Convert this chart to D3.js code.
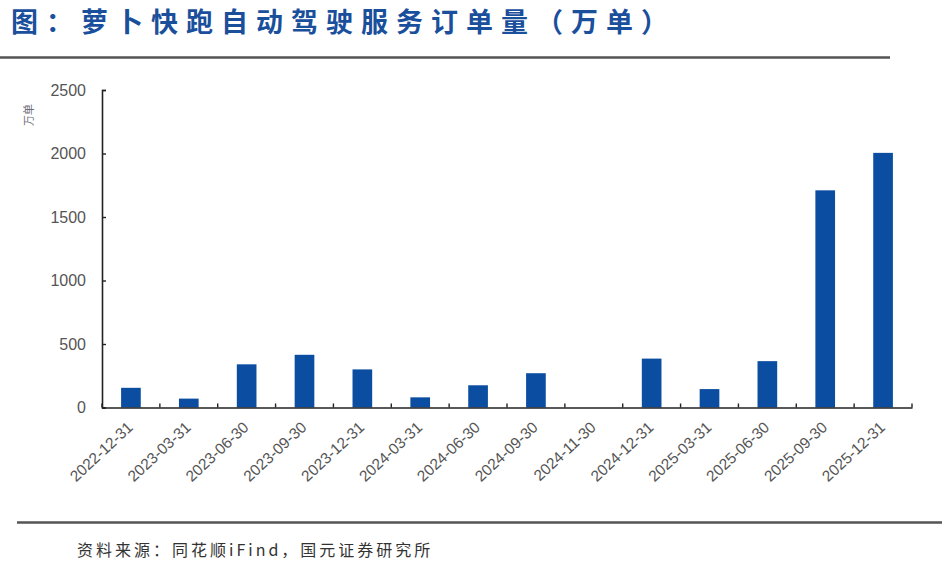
<!DOCTYPE html>
<html>
<head>
<meta charset="utf-8">
<script src="https://cdn.jsdelivr.net/npm/d3@7"></script>
<style>
  body { margin: 0; background: #fff; }
  svg { display: block; }
</style>
</head>
<body>
<div id="chart"></div>
<script>
// data (万单)
const dates = ["2022-12-31", "2023-03-31", "2023-06-30", "2023-09-30", "2023-12-31",
  "2024-03-31", "2024-06-30", "2024-09-30", "2024-11-30", "2024-12-31",
  "2025-03-31", "2025-06-30", "2025-09-30", "2025-12-31"];
const orders = [155, 70, 340, 415, 300, 80, 175, 270, 0, 385, 145, 365, 1710, 2005];
const yTicks = [0, 500, 1000, 1500, 2000, 2500];

const W = 945, H = 562;
const plot = {left: 102, right: 912, top: 90, bottom: 407.5};

const svg = d3.select("#chart").append("svg")
  .attr("width", W).attr("height", H);

// title + rules
svg.append("text")
  .attr("x", 11).attr("y", 32)
  .attr("font-family", "'Noto Sans CJK SC', sans-serif")
  .attr("font-weight", "bold")
  .attr("font-size", 27)
  .attr("letter-spacing", 8)
  .attr("fill", "#1a4f9c")
  .text("图：萝卜快跑自动驾驶服务订单量（万单）");

svg.append("line").attr("x1", 0).attr("x2", 890).attr("y1", 57.5).attr("y2", 57.5)
  .attr("stroke", "#555").attr("stroke-width", 2.5);
svg.append("line").attr("x1", 17).attr("x2", 942).attr("y1", 522.5).attr("y2", 522.5)
  .attr("stroke", "#555").attr("stroke-width", 2.5);

svg.append("text")
  .attr("x", 77).attr("y", 556)
  .attr("font-family", "'Noto Sans CJK SC', sans-serif")
  .attr("font-size", 16)
  .attr("letter-spacing", 3)
  .attr("fill", "#333")
  .text("资料来源：同花顺iFind，国元证券研究所");

// scales
let x = d3.scaleBand().domain(dates).range([plot.left, plot.right])
  .paddingInner(0.66).paddingOuter(0.33);
let y = d3.scaleLinear().domain([0, 2500]).range([plot.bottom, plot.top]);

// bars
svg.selectAll(".bar").data(orders).enter().append("rect")
  .attr("class", "bar")
  .attr("x", (d, i) => x(dates[i]))
  .attr("width", x.bandwidth())
  .attr("y", d => y(d))
  .attr("height", d => y(0) - y(d))
  .attr("fill", "#0b4da1");

// y axis, ticks pointing inward
let yAxis = svg.append("g")
  .attr("transform", `translate(${plot.left},0)`)
  .call(d3.axisLeft(y).tickValues(yTicks).tickFormat(d3.format("d")).tickSize(-4).tickPadding(16));
yAxis.select(".domain").attr("stroke", "#222").attr("stroke-width", 1.6);
yAxis.selectAll(".tick line").attr("stroke", "#222").attr("stroke-width", 1.4);
yAxis.selectAll("text")
  .attr("font-family", "'Liberation Sans', Arial, sans-serif")
  .attr("font-size", 16).attr("fill", "#555");

svg.append("text")
  .attr("transform", "translate(33,115) rotate(-90)")
  .attr("text-anchor", "middle")
  .attr("font-family", "'Noto Sans CJK SC', sans-serif")
  .attr("font-size", 11).attr("fill", "#6f6f7a")
  .text("万单");

// x axis: labels from the band scale, separator ticks between categories
let xAxis = svg.append("g")
  .attr("transform", `translate(0,${plot.bottom})`)
  .call(d3.axisBottom(x).tickSize(0).tickPadding(0));
xAxis.select(".domain").attr("stroke", "#222").attr("stroke-width", 1.6);
xAxis.selectAll("text")
  .attr("font-family", "'Liberation Sans', Arial, sans-serif")
  .attr("font-size", 15.5).attr("fill", "#555")
  .attr("text-anchor", "end")
  .attr("dy", 0)
  .attr("y", 0)
  .attr("transform", "translate(3,21) rotate(-43)");

const step = x.step();
const seps = dates.map(d => x(d) - (step - x.bandwidth()) / 2).concat([plot.right]);
svg.selectAll(".sep").data(seps).enter().append("line")
  .attr("class", "sep")
  .attr("x1", d => d).attr("x2", d => d)
  .attr("y1", plot.bottom).attr("y2", plot.bottom - 4)
  .attr("stroke", "#222").attr("stroke-width", 1.4);
</script>
</body>
</html>
